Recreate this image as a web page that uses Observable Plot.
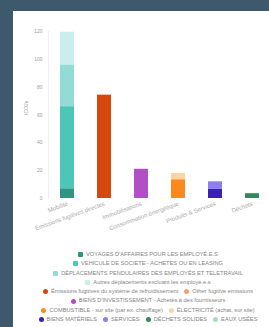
<!DOCTYPE html>
<html>
<head>
<meta charset="utf-8">
<script src="https://cdn.jsdelivr.net/npm/d3@7"></script>
<script src="https://cdn.jsdelivr.net/npm/@observablehq/plot@0.6"></script>
<style>
  html, body { margin: 0; padding: 0; background: #3e596c; width: 269px; height: 327px; overflow: hidden; }
  #panel { position: absolute; left: 13px; top: 11px; width: 270px; height: 330px; background: #fff; overflow: hidden; font-family: "Liberation Sans", Arial, sans-serif; }
  #legend { position: absolute; left: 0; top: 239px; width: 270px; color: #858585; font-size: 5.7px; line-height: 9.3px; }
  .row { display: flex; justify-content: center; white-space: nowrap; }
  .item { display: inline-flex; align-items: center; margin: 0 3px; }
  .sw { width: 5px; height: 5px; border-radius: 1px; margin-right: 3px; display: inline-block; }
  .round .sw { border-radius: 2.5px; }
</style>
</head>
<body>
<div id="panel"><div id="chart"></div><div id="legend"></div></div>
<script>
const categories = ["Mobilité", "Émissions fugitives directes", "Immobilisations", "Consommation énergétique", "Produits & Services", "Déchets"];
const seriesNames = [
  "VOYAGES D'AFFAIRES POUR LES EMPLOYÉ.E.S",
  "VEHICULE DE SOCIETE - ACHETES OU EN LEASING",
  "DÉPLACEMENTS PENDULAIRES DES EMPLOYÉS ET TELETRAVAIL",
  "Autres déplacements excluant les employé.e.s",
  "Émissions fugitives du système de refroidissement",
  "Other fugitive emissions",
  "BIENS D'INVESTISSEMENT - Achetés à des fournisseurs",
  "COMBUSTIBLE - sur site (par ex. chauffage)",
  "ÉLECTRICITÉ (achat, sur site)",
  "BIENS MATÉRIELS",
  "SERVICES",
  "DÉCHETS SOLIDES",
  "EAUX USÉES"
];
const seriesCategory = [0, 0, 0, 0, 1, 1, 2, 3, 3, 4, 4, 5, 5];
const seriesValues = [7, 59, 30, 23.5, 74, 0.5, 21, 13.5, 4.5, 6.5, 5.5, 3.5, 0.2];
const seriesColors = ["#2f9484", "#4cc6b6", "#93dcd5", "#c9eeeb", "#d5470b", "#f5a070", "#b34fc6", "#fb8a1e", "#fdd3a6", "#3a20b6", "#8d80ee", "#35885a", "#9fe0b8"];
const legendRows = [[0], [1], [2], [3], [4, 5], [6], [7, 8], [9, 10, 11, 12]];
const yTicks = [0, 20, 40, 60, 80, 100, 120];

const rows = seriesNames.map((s, i) => ({category: categories[seriesCategory[i]], series: s, value: seriesValues[i]}));

const chart = Plot.plot({
  width: 270,
  height: 232,
  marginLeft: 35,
  marginRight: 11,
  marginTop: 20,
  marginBottom: 45,
  style: {fontSize: "5px", fontFamily: "Liberation Sans, Arial, sans-serif", color: "#9a9a9a", background: "transparent"},
  x: {domain: categories, paddingInner: 0.62, paddingOuter: 0.31, label: null},
  y: {domain: [0, 120], label: null},
  color: {domain: seriesNames, range: seriesColors},
  marks: [
    Plot.frame({anchor: "left", stroke: "#efefef", strokeWidth: 1}),
    Plot.barY(rows, {x: "category", y: "value", fill: "series"}),
    Plot.axisY({ticks: yTicks, tickSize: 0, tickPadding: 6, fill: "#a0a0a0", label: null}),
    Plot.axisX({tickSize: 0, tickPadding: 5, tickRotate: -20, fill: "#a8a8a8", fontSize: 6, label: null}),
    Plot.text(["tCO2e"], {frameAnchor: "left", dx: -22, rotate: -90, fill: "#a0a0a0", fontSize: 5})
  ]
});
document.getElementById("chart").appendChild(chart);

const legend = document.getElementById("legend");
legendRows.forEach((r, ri) => {
  const row = document.createElement("div");
  row.className = "row" + (ri >= 4 ? " round" : "");
  r.forEach(i => {
    const it = document.createElement("span");
    it.className = "item";
    const sw = document.createElement("span");
    sw.className = "sw";
    sw.style.background = seriesColors[i];
    it.appendChild(sw);
    it.appendChild(document.createTextNode(seriesNames[i]));
    row.appendChild(it);
  });
  legend.appendChild(row);
});
</script>
</body>
</html>
